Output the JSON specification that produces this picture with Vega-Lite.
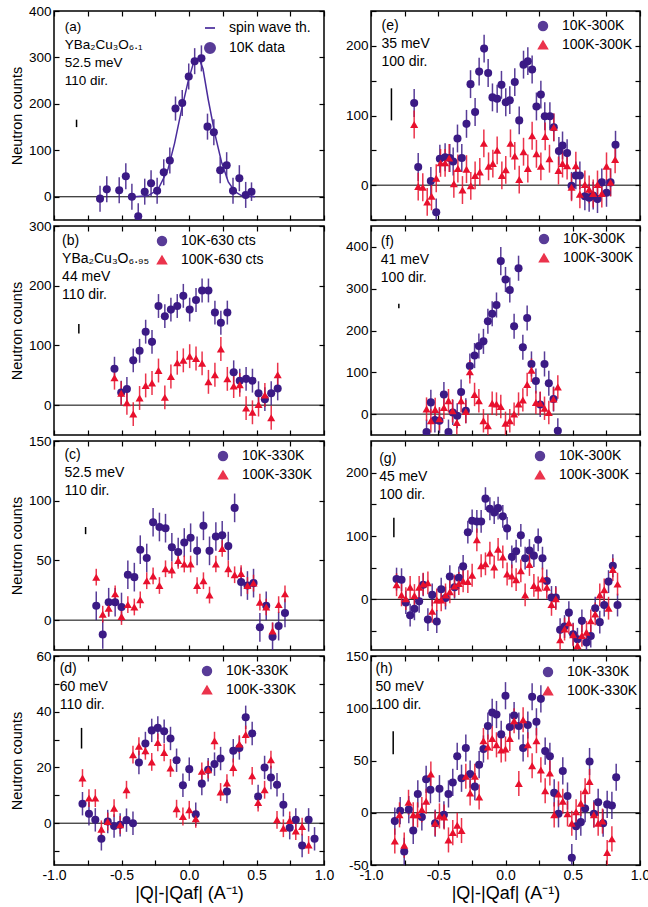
{
  "$schema": "https://vega.github.io/schema/vega-lite/v6.json",
  "padding": {"left": 8, "top": 3, "right": 0, "bottom": 5},
  "spacing": 9,
  "config": {
    "font": "Liberation Sans",
    "locale": {"number": {"decimal": ".", "thousands": ",", "grouping": [3], "currency": ["$", ""], "minus": "-"}},
    "view": {"stroke": "#000000", "strokeWidth": 1.5},
    "axis": {"grid": false, "domain": false, "tickColor": "#000000", "tickWidth": 1.2, "labelColor": "#000000", "titleColor": "#000000", "labelFontSize": 13.5, "titleFontSize": 14.5, "titleFontWeight": "normal", "labelFlush": false, "labelOverlap": false},
    "legend": {"labelFontSize": 14, "labelColor": "#000000", "titleFontSize": 12}
  },
  "datasets": {
    "a": [
      {"s":"10K data","x":-0.659,"y":-4,"e":28},{"s":"10K data","x":-0.609,"y":16,"e":28},{"s":"10K data","x":-0.517,"y":14,"e":28},{"s":"10K data","x":-0.468,"y":44,"e":28},{"s":"10K data","x":-0.423,"y":0,"e":28},{"s":"10K data","x":-0.376,"y":-42,"e":28},{"s":"10K data","x":-0.328,"y":11,"e":28},{"s":"10K data","x":-0.281,"y":29,"e":28},{"s":"10K data","x":-0.236,"y":13,"e":28},{"s":"10K data","x":-0.187,"y":53,"e":28},{"s":"10K data","x":-0.142,"y":78,"e":28},{"s":"10K data","x":-0.100,"y":190,"e":26},{"s":"10K data","x":-0.050,"y":202,"e":28},{"s":"10K data","x":-0.002,"y":259,"e":28},{"s":"10K data","x":0.042,"y":292,"e":28},{"s":"10K data","x":0.092,"y":298,"e":28},{"s":"10K data","x":0.137,"y":151,"e":28},{"s":"10K data","x":0.184,"y":139,"e":28},{"s":"10K data","x":0.231,"y":57,"e":28},{"s":"10K data","x":0.279,"y":68,"e":28},{"s":"10K data","x":0.326,"y":13,"e":28},{"s":"10K data","x":0.373,"y":40,"e":28},{"s":"10K data","x":0.420,"y":4,"e":28},{"s":"10K data","x":0.463,"y":11,"e":20}
    ],
    "aline": [
      {"s":"spin wave th.","x":-0.405,"y":0},{"s":"spin wave th.","x":-0.306,"y":2},{"s":"spin wave th.","x":-0.231,"y":15},{"s":"spin wave th.","x":-0.157,"y":58},{"s":"spin wave th.","x":-0.107,"y":115},{"s":"spin wave th.","x":-0.057,"y":185},{"s":"spin wave th.","x":-0.007,"y":248},{"s":"spin wave th.","x":0.030,"y":285},{"s":"spin wave th.","x":0.072,"y":300},{"s":"spin wave th.","x":0.104,"y":275},{"s":"spin wave th.","x":0.142,"y":210},{"s":"spin wave th.","x":0.192,"y":135},{"s":"spin wave th.","x":0.241,"y":75},{"s":"spin wave th.","x":0.291,"y":32},{"s":"spin wave th.","x":0.341,"y":11},{"s":"spin wave th.","x":0.391,"y":2},{"s":"spin wave th.","x":0.490,"y":0}
    ],
    "b": [
      {"s":"10K-630 cts","x":-0.552,"y":61,"e":20},{"s":"10K-630 cts","x":-0.502,"y":21,"e":20},{"s":"10K-630 cts","x":-0.460,"y":27,"e":20},{"s":"10K-630 cts","x":-0.413,"y":75,"e":20},{"s":"10K-630 cts","x":-0.366,"y":91,"e":20},{"s":"10K-630 cts","x":-0.321,"y":123,"e":20},{"s":"10K-630 cts","x":-0.274,"y":106,"e":20},{"s":"10K-630 cts","x":-0.226,"y":166,"e":20},{"s":"10K-630 cts","x":-0.179,"y":149,"e":20},{"s":"10K-630 cts","x":-0.134,"y":160,"e":20},{"s":"10K-630 cts","x":-0.087,"y":166,"e":20},{"s":"10K-630 cts","x":-0.042,"y":183,"e":20},{"s":"10K-630 cts","x":0.005,"y":160,"e":20},{"s":"10K-630 cts","x":0.052,"y":176,"e":20},{"s":"10K-630 cts","x":0.097,"y":192,"e":20},{"s":"10K-630 cts","x":0.144,"y":192,"e":20},{"s":"10K-630 cts","x":0.192,"y":155,"e":20},{"s":"10K-630 cts","x":0.236,"y":138,"e":20},{"s":"10K-630 cts","x":0.284,"y":155,"e":20},{"s":"10K-630 cts","x":0.331,"y":55,"e":20},{"s":"10K-630 cts","x":0.376,"y":41,"e":20},{"s":"10K-630 cts","x":0.423,"y":44,"e":20},{"s":"10K-630 cts","x":0.470,"y":41,"e":20},{"s":"10K-630 cts","x":0.515,"y":20,"e":20},{"s":"10K-630 cts","x":0.562,"y":10,"e":20},{"s":"10K-630 cts","x":0.609,"y":20,"e":20},{"s":"10K-630 cts","x":0.657,"y":28,"e":20},
      {"s":"100K-630 cts","x":-0.552,"y":46,"e":20},{"s":"100K-630 cts","x":-0.502,"y":20,"e":20},{"s":"100K-630 cts","x":-0.460,"y":4,"e":20},{"s":"100K-630 cts","x":-0.413,"y":-15,"e":20},{"s":"100K-630 cts","x":-0.366,"y":12,"e":20},{"s":"100K-630 cts","x":-0.321,"y":33,"e":20},{"s":"100K-630 cts","x":-0.274,"y":37,"e":20},{"s":"100K-630 cts","x":-0.226,"y":58,"e":20},{"s":"100K-630 cts","x":-0.179,"y":13,"e":20},{"s":"100K-630 cts","x":-0.134,"y":48,"e":20},{"s":"100K-630 cts","x":-0.087,"y":71,"e":20},{"s":"100K-630 cts","x":-0.042,"y":75,"e":20},{"s":"100K-630 cts","x":0.005,"y":82,"e":20},{"s":"100K-630 cts","x":0.052,"y":78,"e":20},{"s":"100K-630 cts","x":0.097,"y":70,"e":20},{"s":"100K-630 cts","x":0.144,"y":39,"e":20},{"s":"100K-630 cts","x":0.192,"y":51,"e":20},{"s":"100K-630 cts","x":0.236,"y":94,"e":20},{"s":"100K-630 cts","x":0.284,"y":44,"e":20},{"s":"100K-630 cts","x":0.331,"y":32,"e":20},{"s":"100K-630 cts","x":0.376,"y":34,"e":20},{"s":"100K-630 cts","x":0.423,"y":-5,"e":20},{"s":"100K-630 cts","x":0.470,"y":-12,"e":20},{"s":"100K-630 cts","x":0.515,"y":1,"e":20},{"s":"100K-630 cts","x":0.562,"y":17,"e":20},{"s":"100K-630 cts","x":0.609,"y":-21,"e":20},{"s":"100K-630 cts","x":0.657,"y":51,"e":20}
    ],
    "c": [
      {"s":"10K-330K","x":-0.687,"y":12,"e":12},{"s":"10K-330K","x":-0.639,"y":-12,"e":12},{"s":"10K-330K","x":-0.595,"y":15,"e":12},{"s":"10K-330K","x":-0.547,"y":15,"e":12},{"s":"10K-330K","x":-0.500,"y":11,"e":12},{"s":"10K-330K","x":-0.453,"y":38,"e":12},{"s":"10K-330K","x":-0.405,"y":36,"e":12},{"s":"10K-330K","x":-0.361,"y":59,"e":12},{"s":"10K-330K","x":-0.313,"y":52,"e":12},{"s":"10K-330K","x":-0.266,"y":82,"e":12},{"s":"10K-330K","x":-0.219,"y":78,"e":12},{"s":"10K-330K","x":-0.174,"y":77,"e":12},{"s":"10K-330K","x":-0.127,"y":61,"e":12},{"s":"10K-330K","x":-0.080,"y":57,"e":12},{"s":"10K-330K","x":-0.035,"y":65,"e":12},{"s":"10K-330K","x":0.012,"y":69,"e":12},{"s":"10K-330K","x":0.060,"y":58,"e":12},{"s":"10K-330K","x":0.107,"y":79,"e":12},{"s":"10K-330K","x":0.152,"y":58,"e":12},{"s":"10K-330K","x":0.199,"y":70,"e":12},{"s":"10K-330K","x":0.246,"y":71,"e":12},{"s":"10K-330K","x":0.291,"y":62,"e":12},{"s":"10K-330K","x":0.338,"y":94,"e":12},{"s":"10K-330K","x":0.386,"y":32,"e":12},{"s":"10K-330K","x":0.433,"y":29,"e":12},{"s":"10K-330K","x":0.478,"y":31,"e":12},{"s":"10K-330K","x":0.525,"y":-6,"e":12},{"s":"10K-330K","x":0.572,"y":12,"e":12},{"s":"10K-330K","x":0.619,"y":-14,"e":12},{"s":"10K-330K","x":0.664,"y":-5,"e":12},{"s":"10K-330K","x":0.711,"y":6,"e":12},
      {"s":"100K-330K","x":-0.687,"y":36,"e":7},{"s":"100K-330K","x":-0.639,"y":5,"e":7},{"s":"100K-330K","x":-0.595,"y":10,"e":7},{"s":"100K-330K","x":-0.547,"y":22,"e":7},{"s":"100K-330K","x":-0.500,"y":3,"e":7},{"s":"100K-330K","x":-0.453,"y":13,"e":7},{"s":"100K-330K","x":-0.405,"y":11,"e":7},{"s":"100K-330K","x":-0.361,"y":17,"e":7},{"s":"100K-330K","x":-0.313,"y":33,"e":7},{"s":"100K-330K","x":-0.266,"y":37,"e":7},{"s":"100K-330K","x":-0.219,"y":29,"e":7},{"s":"100K-330K","x":-0.174,"y":43,"e":7},{"s":"100K-330K","x":-0.127,"y":42,"e":7},{"s":"100K-330K","x":-0.080,"y":50,"e":7},{"s":"100K-330K","x":-0.035,"y":47,"e":7},{"s":"100K-330K","x":0.012,"y":47,"e":7},{"s":"100K-330K","x":0.060,"y":29,"e":7},{"s":"100K-330K","x":0.107,"y":33,"e":7},{"s":"100K-330K","x":0.152,"y":21,"e":7},{"s":"100K-330K","x":0.199,"y":47,"e":7},{"s":"100K-330K","x":0.246,"y":60,"e":7},{"s":"100K-330K","x":0.291,"y":43,"e":7},{"s":"100K-330K","x":0.338,"y":38,"e":7},{"s":"100K-330K","x":0.386,"y":39,"e":7},{"s":"100K-330K","x":0.433,"y":29,"e":7},{"s":"100K-330K","x":0.478,"y":31,"e":7},{"s":"100K-330K","x":0.525,"y":15,"e":7},{"s":"100K-330K","x":0.572,"y":11,"e":7},{"s":"100K-330K","x":0.619,"y":-9,"e":7},{"s":"100K-330K","x":0.664,"y":13,"e":7},{"s":"100K-330K","x":0.711,"y":22,"e":7}
    ],
    "d": [
      {"s":"10K-330K","x":-0.789,"y":7,"e":4.2},{"s":"10K-330K","x":-0.741,"y":3.4,"e":4.2},{"s":"10K-330K","x":-0.694,"y":1.2,"e":4.2},{"s":"10K-330K","x":-0.649,"y":-5.6,"e":4.2},{"s":"10K-330K","x":-0.602,"y":0.6,"e":4.2},{"s":"10K-330K","x":-0.555,"y":-1,"e":4.2},{"s":"10K-330K","x":-0.510,"y":-0.6,"e":4.2},{"s":"10K-330K","x":-0.463,"y":1.1,"e":4.2},{"s":"10K-330K","x":-0.415,"y":0,"e":4.2},{"s":"10K-330K","x":-0.371,"y":21.8,"e":4.2},{"s":"10K-330K","x":-0.323,"y":28.6,"e":4.2},{"s":"10K-330K","x":-0.276,"y":33.3,"e":4.2},{"s":"10K-330K","x":-0.231,"y":34.2,"e":4.2},{"s":"10K-330K","x":-0.184,"y":33,"e":4.2},{"s":"10K-330K","x":-0.137,"y":30.4,"e":4.2},{"s":"10K-330K","x":-0.092,"y":22.6,"e":4.2},{"s":"10K-330K","x":-0.045,"y":13.6,"e":4.2},{"s":"10K-330K","x":0.002,"y":19.4,"e":4.2},{"s":"10K-330K","x":0.050,"y":3.2,"e":4.2},{"s":"10K-330K","x":0.095,"y":14.2,"e":4.2},{"s":"10K-330K","x":0.142,"y":19.2,"e":4.2},{"s":"10K-330K","x":0.189,"y":21.2,"e":4.2},{"s":"10K-330K","x":0.234,"y":23.2,"e":4.2},{"s":"10K-330K","x":0.281,"y":11.4,"e":4.2},{"s":"10K-330K","x":0.328,"y":26,"e":4.2},{"s":"10K-330K","x":0.373,"y":27,"e":4.2},{"s":"10K-330K","x":0.420,"y":38,"e":4.2},{"s":"10K-330K","x":0.468,"y":32.2,"e":4.2},{"s":"10K-330K","x":0.512,"y":9.6,"e":4.2},{"s":"10K-330K","x":0.560,"y":20,"e":4.2},{"s":"10K-330K","x":0.607,"y":16.4,"e":4.2},{"s":"10K-330K","x":0.652,"y":13.8,"e":4.2},{"s":"10K-330K","x":0.699,"y":6.6,"e":4.2},{"s":"10K-330K","x":0.746,"y":-1.6,"e":4.2},{"s":"10K-330K","x":0.791,"y":1.2,"e":4.2},{"s":"10K-330K","x":0.838,"y":-8,"e":4.2},{"s":"10K-330K","x":0.886,"y":1.2,"e":4.2},{"s":"10K-330K","x":0.930,"y":-5.6,"e":4.2},
      {"s":"100K-330K","x":-0.789,"y":16.2,"e":3.2},{"s":"100K-330K","x":-0.741,"y":9,"e":3.2},{"s":"100K-330K","x":-0.694,"y":9,"e":3.2},{"s":"100K-330K","x":-0.649,"y":-2.2,"e":3.2},{"s":"100K-330K","x":-0.602,"y":0.6,"e":3.2},{"s":"100K-330K","x":-0.555,"y":5.4,"e":3.2},{"s":"100K-330K","x":-0.510,"y":-0.6,"e":3.2},{"s":"100K-330K","x":-0.463,"y":12,"e":3.2},{"s":"100K-330K","x":-0.415,"y":24.6,"e":3.2},{"s":"100K-330K","x":-0.371,"y":27.6,"e":3.2},{"s":"100K-330K","x":-0.323,"y":26,"e":3.2},{"s":"100K-330K","x":-0.276,"y":22,"e":3.2},{"s":"100K-330K","x":-0.231,"y":29,"e":3.2},{"s":"100K-330K","x":-0.184,"y":25.4,"e":3.2},{"s":"100K-330K","x":-0.137,"y":19.8,"e":3.2},{"s":"100K-330K","x":-0.092,"y":5.2,"e":3.2},{"s":"100K-330K","x":-0.045,"y":2.4,"e":3.2},{"s":"100K-330K","x":0.002,"y":4.8,"e":3.2},{"s":"100K-330K","x":0.050,"y":1.6,"e":3.2},{"s":"100K-330K","x":0.095,"y":18.6,"e":3.2},{"s":"100K-330K","x":0.142,"y":19.2,"e":3.2},{"s":"100K-330K","x":0.189,"y":29.6,"e":3.2},{"s":"100K-330K","x":0.234,"y":11.2,"e":3.2},{"s":"100K-330K","x":0.281,"y":14.4,"e":3.2},{"s":"100K-330K","x":0.328,"y":20,"e":3.2},{"s":"100K-330K","x":0.373,"y":28.4,"e":3.2},{"s":"100K-330K","x":0.420,"y":31.8,"e":3.2},{"s":"100K-330K","x":0.468,"y":17,"e":3.2},{"s":"100K-330K","x":0.512,"y":7.4,"e":3.2},{"s":"100K-330K","x":0.560,"y":12,"e":3.2},{"s":"100K-330K","x":0.607,"y":22.8,"e":3.2},{"s":"100K-330K","x":0.652,"y":1.2,"e":3.2},{"s":"100K-330K","x":0.699,"y":-1.8,"e":3.2},{"s":"100K-330K","x":0.746,"y":1,"e":3.2},{"s":"100K-330K","x":0.791,"y":-2.8,"e":3.2},{"s":"100K-330K","x":0.838,"y":-1.2,"e":3.2},{"s":"100K-330K","x":0.886,"y":-7.8,"e":3.2}
    ],
    "e": [
      {"s":"10K-300K","x":-0.679,"y":118,"e":20},{"s":"10K-300K","x":-0.649,"y":26,"e":20},{"s":"10K-300K","x":-0.555,"y":6,"e":20},{"s":"10K-300K","x":-0.515,"y":-39,"e":20},{"s":"10K-300K","x":-0.488,"y":38,"e":20},{"s":"10K-300K","x":-0.449,"y":40,"e":20},{"s":"10K-300K","x":-0.414,"y":39,"e":20},{"s":"10K-300K","x":-0.389,"y":34,"e":20},{"s":"10K-300K","x":-0.357,"y":67,"e":20},{"s":"10K-300K","x":-0.325,"y":39,"e":20},{"s":"10K-300K","x":-0.290,"y":88,"e":20},{"s":"10K-300K","x":-0.260,"y":145,"e":20},{"s":"10K-300K","x":-0.226,"y":105,"e":20},{"s":"10K-300K","x":-0.196,"y":163,"e":20},{"s":"10K-300K","x":-0.159,"y":196,"e":20},{"s":"10K-300K","x":-0.129,"y":161,"e":20},{"s":"10K-300K","x":-0.097,"y":126,"e":20},{"s":"10K-300K","x":-0.062,"y":124,"e":20},{"s":"10K-300K","x":-0.030,"y":144,"e":20},{"s":"10K-300K","x":0.002,"y":119,"e":20},{"s":"10K-300K","x":0.032,"y":122,"e":20},{"s":"10K-300K","x":0.069,"y":148,"e":20},{"s":"10K-300K","x":0.102,"y":93,"e":20},{"s":"10K-300K","x":0.134,"y":173,"e":20},{"s":"10K-300K","x":0.166,"y":178,"e":20},{"s":"10K-300K","x":0.198,"y":166,"e":20},{"s":"10K-300K","x":0.230,"y":113,"e":20},{"s":"10K-300K","x":0.263,"y":130,"e":20},{"s":"10K-300K","x":0.292,"y":99,"e":20},{"s":"10K-300K","x":0.330,"y":99,"e":20},{"s":"10K-300K","x":0.359,"y":83,"e":20},{"s":"10K-300K","x":0.397,"y":49,"e":20},{"s":"10K-300K","x":0.424,"y":57,"e":20},{"s":"10K-300K","x":0.458,"y":46,"e":20},{"s":"10K-300K","x":0.491,"y":-1,"e":20},{"s":"10K-300K","x":0.523,"y":14,"e":20},{"s":"10K-300K","x":0.553,"y":14,"e":20},{"s":"10K-300K","x":0.590,"y":-16,"e":20},{"s":"10K-300K","x":0.622,"y":-18,"e":20},{"s":"10K-300K","x":0.652,"y":-15,"e":20},{"s":"10K-300K","x":0.684,"y":-20,"e":20},{"s":"10K-300K","x":0.716,"y":4,"e":20},{"s":"10K-300K","x":0.751,"y":-11,"e":20},{"s":"10K-300K","x":0.781,"y":4,"e":20},{"s":"10K-300K","x":0.818,"y":58,"e":20},
      {"s":"100K-300K","x":-0.679,"y":87,"e":20},{"s":"100K-300K","x":-0.649,"y":-2,"e":20},{"s":"100K-300K","x":-0.615,"y":-3,"e":20},{"s":"100K-300K","x":-0.582,"y":-24,"e":20},{"s":"100K-300K","x":-0.550,"y":-16,"e":20},{"s":"100K-300K","x":-0.515,"y":10,"e":20},{"s":"100K-300K","x":-0.483,"y":32,"e":20},{"s":"100K-300K","x":-0.449,"y":32,"e":20},{"s":"100K-300K","x":-0.419,"y":39,"e":20},{"s":"100K-300K","x":-0.384,"y":2,"e":20},{"s":"100K-300K","x":-0.354,"y":24,"e":20},{"s":"100K-300K","x":-0.320,"y":-7,"e":20},{"s":"100K-300K","x":-0.290,"y":23,"e":20},{"s":"100K-300K","x":-0.258,"y":-1,"e":20},{"s":"100K-300K","x":-0.226,"y":14,"e":20},{"s":"100K-300K","x":-0.191,"y":19,"e":20},{"s":"100K-300K","x":-0.161,"y":60,"e":20},{"s":"100K-300K","x":-0.126,"y":27,"e":20},{"s":"100K-300K","x":-0.094,"y":31,"e":20},{"s":"100K-300K","x":-0.062,"y":50,"e":20},{"s":"100K-300K","x":-0.027,"y":14,"e":20},{"s":"100K-300K","x":0.002,"y":22,"e":20},{"s":"100K-300K","x":0.037,"y":60,"e":20},{"s":"100K-300K","x":0.069,"y":42,"e":20},{"s":"100K-300K","x":0.102,"y":8,"e":20},{"s":"100K-300K","x":0.134,"y":48,"e":20},{"s":"100K-300K","x":0.166,"y":24,"e":20},{"s":"100K-300K","x":0.198,"y":71,"e":20},{"s":"100K-300K","x":0.230,"y":45,"e":20},{"s":"100K-300K","x":0.263,"y":27,"e":20},{"s":"100K-300K","x":0.295,"y":70,"e":20},{"s":"100K-300K","x":0.327,"y":38,"e":20},{"s":"100K-300K","x":0.359,"y":83,"e":20},{"s":"100K-300K","x":0.394,"y":21,"e":20},{"s":"100K-300K","x":0.424,"y":31,"e":20},{"s":"100K-300K","x":0.458,"y":28,"e":20},{"s":"100K-300K","x":0.491,"y":-3,"e":20},{"s":"100K-300K","x":0.523,"y":28,"e":20},{"s":"100K-300K","x":0.553,"y":-13,"e":20},{"s":"100K-300K","x":0.590,"y":1,"e":20},{"s":"100K-300K","x":0.622,"y":-6,"e":20},{"s":"100K-300K","x":0.652,"y":-12,"e":20},{"s":"100K-300K","x":0.684,"y":1,"e":20},{"s":"100K-300K","x":0.716,"y":-12,"e":20},{"s":"100K-300K","x":0.751,"y":27,"e":20},{"s":"100K-300K","x":0.781,"y":4,"e":20},{"s":"100K-300K","x":0.815,"y":37,"e":20}
    ],
    "f": [
      {"s":"10K-300K","x":-0.587,"y":-43,"e":30},{"s":"10K-300K","x":-0.555,"y":28,"e":30},{"s":"10K-300K","x":-0.525,"y":-14,"e":30},{"s":"10K-300K","x":-0.491,"y":-16,"e":30},{"s":"10K-300K","x":-0.458,"y":47,"e":30},{"s":"10K-300K","x":-0.424,"y":-43,"e":30},{"s":"10K-300K","x":-0.392,"y":4,"e":30},{"s":"10K-300K","x":-0.359,"y":-4,"e":30},{"s":"10K-300K","x":-0.330,"y":53,"e":30},{"s":"10K-300K","x":-0.295,"y":8,"e":30},{"s":"10K-300K","x":-0.265,"y":115,"e":30},{"s":"10K-300K","x":-0.230,"y":140,"e":30},{"s":"10K-300K","x":-0.198,"y":163,"e":30},{"s":"10K-300K","x":-0.164,"y":174,"e":30},{"s":"10K-300K","x":-0.131,"y":222,"e":30},{"s":"10K-300K","x":-0.099,"y":240,"e":30},{"s":"10K-300K","x":-0.067,"y":261,"e":30},{"s":"10K-300K","x":-0.035,"y":366,"e":34},{"s":"10K-300K","x":0.000,"y":322,"e":30},{"s":"10K-300K","x":0.032,"y":297,"e":30},{"s":"10K-300K","x":0.064,"y":210,"e":30},{"s":"10K-300K","x":0.097,"y":349,"e":30},{"s":"10K-300K","x":0.129,"y":160,"e":30},{"s":"10K-300K","x":0.161,"y":230,"e":30},{"s":"10K-300K","x":0.193,"y":120,"e":30},{"s":"10K-300K","x":0.226,"y":79,"e":30},{"s":"10K-300K","x":0.258,"y":23,"e":30},{"s":"10K-300K","x":0.290,"y":120,"e":30},{"s":"10K-300K","x":0.322,"y":74,"e":30},{"s":"10K-300K","x":0.357,"y":36,"e":30},{"s":"10K-300K","x":0.389,"y":-40,"e":30},
      {"s":"100K-300K","x":-0.587,"y":12,"e":28},{"s":"100K-300K","x":-0.555,"y":-16,"e":28},{"s":"100K-300K","x":-0.523,"y":11,"e":28},{"s":"100K-300K","x":-0.491,"y":-11,"e":28},{"s":"100K-300K","x":-0.458,"y":16,"e":28},{"s":"100K-300K","x":-0.424,"y":32,"e":28},{"s":"100K-300K","x":-0.394,"y":8,"e":28},{"s":"100K-300K","x":-0.362,"y":-20,"e":28},{"s":"100K-300K","x":-0.330,"y":32,"e":28},{"s":"100K-300K","x":-0.295,"y":6,"e":28},{"s":"100K-300K","x":-0.265,"y":101,"e":28},{"s":"100K-300K","x":-0.230,"y":47,"e":28},{"s":"100K-300K","x":-0.198,"y":32,"e":28},{"s":"100K-300K","x":-0.164,"y":-16,"e":28},{"s":"100K-300K","x":-0.131,"y":-28,"e":28},{"s":"100K-300K","x":-0.099,"y":26,"e":28},{"s":"100K-300K","x":-0.067,"y":24,"e":28},{"s":"100K-300K","x":-0.035,"y":18,"e":28},{"s":"100K-300K","x":0.000,"y":-22,"e":28},{"s":"100K-300K","x":0.032,"y":-16,"e":28},{"s":"100K-300K","x":0.064,"y":0,"e":28},{"s":"100K-300K","x":0.097,"y":24,"e":28},{"s":"100K-300K","x":0.129,"y":34,"e":28},{"s":"100K-300K","x":0.161,"y":71,"e":28},{"s":"100K-300K","x":0.193,"y":105,"e":28},{"s":"100K-300K","x":0.226,"y":28,"e":28},{"s":"100K-300K","x":0.258,"y":26,"e":28},{"s":"100K-300K","x":0.290,"y":14,"e":28},{"s":"100K-300K","x":0.322,"y":4,"e":28},{"s":"100K-300K","x":0.357,"y":36,"e":28},{"s":"100K-300K","x":0.389,"y":65,"e":28}
    ],
    "g": [
      {"s":"10K-300K","x":-0.810,"y":32,"e":18},{"s":"10K-300K","x":-0.773,"y":31,"e":18},{"s":"10K-300K","x":-0.741,"y":-5,"e":18},{"s":"10K-300K","x":-0.709,"y":-25,"e":18},{"s":"10K-300K","x":-0.677,"y":-15,"e":18},{"s":"10K-300K","x":-0.642,"y":-3,"e":18},{"s":"10K-300K","x":-0.612,"y":23,"e":18},{"s":"10K-300K","x":-0.577,"y":-32,"e":18},{"s":"10K-300K","x":-0.545,"y":7,"e":18},{"s":"10K-300K","x":-0.511,"y":-35,"e":18},{"s":"10K-300K","x":-0.478,"y":16,"e":18},{"s":"10K-300K","x":-0.446,"y":2,"e":18},{"s":"10K-300K","x":-0.414,"y":36,"e":18},{"s":"10K-300K","x":-0.379,"y":19,"e":18},{"s":"10K-300K","x":-0.347,"y":34,"e":18},{"s":"10K-300K","x":-0.315,"y":52,"e":18},{"s":"10K-300K","x":-0.280,"y":106,"e":18},{"s":"10K-300K","x":-0.248,"y":124,"e":18},{"s":"10K-300K","x":-0.213,"y":123,"e":18},{"s":"10K-300K","x":-0.181,"y":123,"e":18},{"s":"10K-300K","x":-0.149,"y":159,"e":18},{"s":"10K-300K","x":-0.116,"y":143,"e":18},{"s":"10K-300K","x":-0.084,"y":137,"e":18},{"s":"10K-300K","x":-0.055,"y":144,"e":18},{"s":"10K-300K","x":-0.020,"y":131,"e":18},{"s":"10K-300K","x":0.012,"y":112,"e":18},{"s":"10K-300K","x":0.047,"y":67,"e":18},{"s":"10K-300K","x":0.079,"y":76,"e":18},{"s":"10K-300K","x":0.114,"y":101,"e":18},{"s":"10K-300K","x":0.146,"y":65,"e":18},{"s":"10K-300K","x":0.178,"y":77,"e":18},{"s":"10K-300K","x":0.211,"y":69,"e":18},{"s":"10K-300K","x":0.243,"y":94,"e":18},{"s":"10K-300K","x":0.275,"y":65,"e":18},{"s":"10K-300K","x":0.307,"y":29,"e":18},{"s":"10K-300K","x":0.342,"y":3,"e":18},{"s":"10K-300K","x":0.374,"y":3,"e":18},{"s":"10K-300K","x":0.406,"y":-48,"e":18},{"s":"10K-300K","x":0.439,"y":-43,"e":18},{"s":"10K-300K","x":0.471,"y":-21,"e":18},{"s":"10K-300K","x":0.503,"y":-55,"e":18},{"s":"10K-300K","x":0.535,"y":-63,"e":18},{"s":"10K-300K","x":0.568,"y":-34,"e":18},{"s":"10K-300K","x":0.602,"y":-68,"e":18},{"s":"10K-300K","x":0.634,"y":-58,"e":18},{"s":"10K-300K","x":0.667,"y":-14,"e":18},{"s":"10K-300K","x":0.701,"y":-36,"e":18},{"s":"10K-300K","x":0.734,"y":-9,"e":18},{"s":"10K-300K","x":0.766,"y":28,"e":18},{"s":"10K-300K","x":0.798,"y":53,"e":18},{"s":"10K-300K","x":0.833,"y":-9,"e":18},
      {"s":"100K-300K","x":-0.810,"y":23,"e":18},{"s":"100K-300K","x":-0.773,"y":7,"e":18},{"s":"100K-300K","x":-0.741,"y":1,"e":18},{"s":"100K-300K","x":-0.709,"y":19,"e":18},{"s":"100K-300K","x":-0.677,"y":6,"e":18},{"s":"100K-300K","x":-0.642,"y":19,"e":18},{"s":"100K-300K","x":-0.612,"y":24,"e":18},{"s":"100K-300K","x":-0.577,"y":26,"e":18},{"s":"100K-300K","x":-0.545,"y":-19,"e":18},{"s":"100K-300K","x":-0.511,"y":-1,"e":18},{"s":"100K-300K","x":-0.478,"y":-1,"e":18},{"s":"100K-300K","x":-0.446,"y":7,"e":18},{"s":"100K-300K","x":-0.414,"y":12,"e":18},{"s":"100K-300K","x":-0.379,"y":21,"e":18},{"s":"100K-300K","x":-0.347,"y":25,"e":18},{"s":"100K-300K","x":-0.315,"y":29,"e":18},{"s":"100K-300K","x":-0.280,"y":28,"e":18},{"s":"100K-300K","x":-0.248,"y":38,"e":18},{"s":"100K-300K","x":-0.213,"y":94,"e":18},{"s":"100K-300K","x":-0.181,"y":53,"e":18},{"s":"100K-300K","x":-0.149,"y":56,"e":18},{"s":"100K-300K","x":-0.116,"y":73,"e":18},{"s":"100K-300K","x":-0.084,"y":51,"e":18},{"s":"100K-300K","x":-0.055,"y":79,"e":18},{"s":"100K-300K","x":-0.020,"y":67,"e":18},{"s":"100K-300K","x":0.012,"y":40,"e":18},{"s":"100K-300K","x":0.047,"y":37,"e":18},{"s":"100K-300K","x":0.079,"y":31,"e":18},{"s":"100K-300K","x":0.114,"y":45,"e":18},{"s":"100K-300K","x":0.146,"y":7,"e":18},{"s":"100K-300K","x":0.178,"y":55,"e":18},{"s":"100K-300K","x":0.211,"y":22,"e":18},{"s":"100K-300K","x":0.243,"y":18,"e":18},{"s":"100K-300K","x":0.275,"y":32,"e":18},{"s":"100K-300K","x":0.307,"y":19,"e":18},{"s":"100K-300K","x":0.342,"y":-8,"e":18},{"s":"100K-300K","x":0.374,"y":1,"e":18},{"s":"100K-300K","x":0.406,"y":-64,"e":18},{"s":"100K-300K","x":0.439,"y":-47,"e":18},{"s":"100K-300K","x":0.471,"y":-37,"e":18},{"s":"100K-300K","x":0.503,"y":-56,"e":18},{"s":"100K-300K","x":0.535,"y":-73,"e":18},{"s":"100K-300K","x":0.568,"y":-57,"e":18},{"s":"100K-300K","x":0.602,"y":-52,"e":18},{"s":"100K-300K","x":0.634,"y":-34,"e":18},{"s":"100K-300K","x":0.667,"y":-23,"e":18},{"s":"100K-300K","x":0.701,"y":7,"e":18},{"s":"100K-300K","x":0.734,"y":15,"e":18},{"s":"100K-300K","x":0.766,"y":-14,"e":18},{"s":"100K-300K","x":0.798,"y":47,"e":18},{"s":"100K-300K","x":0.833,"y":24,"e":18}
    ],
    "h": [
      {"s":"10K-330K","x":-0.823,"y":-8,"e":13},{"s":"10K-330K","x":-0.783,"y":2,"e":13},{"s":"10K-330K","x":-0.753,"y":-37,"e":13},{"s":"10K-330K","x":-0.719,"y":3,"e":13},{"s":"10K-330K","x":-0.686,"y":-17,"e":13},{"s":"10K-330K","x":-0.652,"y":18,"e":13},{"s":"10K-330K","x":-0.622,"y":-4,"e":13},{"s":"10K-330K","x":-0.590,"y":32,"e":13},{"s":"10K-330K","x":-0.558,"y":22,"e":13},{"s":"10K-330K","x":-0.523,"y":-10,"e":13},{"s":"10K-330K","x":-0.491,"y":23,"e":13},{"s":"10K-330K","x":-0.458,"y":-2,"e":13},{"s":"10K-330K","x":-0.424,"y":18,"e":13},{"s":"10K-330K","x":-0.392,"y":29,"e":13},{"s":"10K-330K","x":-0.359,"y":54,"e":13},{"s":"10K-330K","x":-0.327,"y":33,"e":13},{"s":"10K-330K","x":-0.295,"y":62,"e":13},{"s":"10K-330K","x":-0.263,"y":37,"e":13},{"s":"10K-330K","x":-0.228,"y":25,"e":13},{"s":"10K-330K","x":-0.196,"y":46,"e":13},{"s":"10K-330K","x":-0.164,"y":61,"e":13},{"s":"10K-330K","x":-0.131,"y":83,"e":13},{"s":"10K-330K","x":-0.099,"y":96,"e":13},{"s":"10K-330K","x":-0.067,"y":94,"e":13},{"s":"10K-330K","x":-0.032,"y":75,"e":13},{"s":"10K-330K","x":0.000,"y":112,"e":13},{"s":"10K-330K","x":0.032,"y":82,"e":13},{"s":"10K-330K","x":0.064,"y":93,"e":13},{"s":"10K-330K","x":0.099,"y":83,"e":13},{"s":"10K-330K","x":0.131,"y":62,"e":13},{"s":"10K-330K","x":0.166,"y":84,"e":13},{"s":"10K-330K","x":0.198,"y":111,"e":13},{"s":"10K-330K","x":0.230,"y":87,"e":13},{"s":"10K-330K","x":0.263,"y":109,"e":13},{"s":"10K-330K","x":0.295,"y":59,"e":13},{"s":"10K-330K","x":0.330,"y":54,"e":13},{"s":"10K-330K","x":0.362,"y":19,"e":13},{"s":"10K-330K","x":0.394,"y":-1,"e":13},{"s":"10K-330K","x":0.426,"y":40,"e":13},{"s":"10K-330K","x":0.461,"y":16,"e":13},{"s":"10K-330K","x":0.493,"y":-43,"e":13},{"s":"10K-330K","x":0.525,"y":-13,"e":13},{"s":"10K-330K","x":0.560,"y":-9,"e":13},{"s":"10K-330K","x":0.592,"y":4,"e":13},{"s":"10K-330K","x":0.625,"y":49,"e":13},{"s":"10K-330K","x":0.657,"y":-1,"e":13},{"s":"10K-330K","x":0.689,"y":10,"e":13},{"s":"10K-330K","x":0.726,"y":-10,"e":13},{"s":"10K-330K","x":0.756,"y":8,"e":13},{"s":"10K-330K","x":0.791,"y":7,"e":13},{"s":"10K-330K","x":0.823,"y":34,"e":13},
      {"s":"100K-330K","x":-0.823,"y":-27,"e":12},{"s":"100K-330K","x":-0.788,"y":-2,"e":12},{"s":"100K-330K","x":-0.753,"y":-31,"e":12},{"s":"100K-330K","x":-0.721,"y":10,"e":12},{"s":"100K-330K","x":-0.686,"y":-2,"e":12},{"s":"100K-330K","x":-0.654,"y":-2,"e":12},{"s":"100K-330K","x":-0.622,"y":3,"e":12},{"s":"100K-330K","x":-0.590,"y":11,"e":12},{"s":"100K-330K","x":-0.555,"y":37,"e":12},{"s":"100K-330K","x":-0.523,"y":-10,"e":12},{"s":"100K-330K","x":-0.491,"y":-3,"e":12},{"s":"100K-330K","x":-0.456,"y":-4,"e":12},{"s":"100K-330K","x":-0.424,"y":-26,"e":12},{"s":"100K-330K","x":-0.392,"y":-19,"e":12},{"s":"100K-330K","x":-0.359,"y":-12,"e":12},{"s":"100K-330K","x":-0.327,"y":-17,"e":12},{"s":"100K-330K","x":-0.295,"y":35,"e":12},{"s":"100K-330K","x":-0.263,"y":19,"e":12},{"s":"100K-330K","x":-0.228,"y":35,"e":12},{"s":"100K-330K","x":-0.196,"y":15,"e":12},{"s":"100K-330K","x":-0.164,"y":69,"e":12},{"s":"100K-330K","x":-0.131,"y":63,"e":12},{"s":"100K-330K","x":-0.099,"y":71,"e":12},{"s":"100K-330K","x":-0.067,"y":65,"e":12},{"s":"100K-330K","x":-0.032,"y":60,"e":12},{"s":"100K-330K","x":0.000,"y":61,"e":12},{"s":"100K-330K","x":0.032,"y":71,"e":12},{"s":"100K-330K","x":0.064,"y":88,"e":12},{"s":"100K-330K","x":0.099,"y":28,"e":12},{"s":"100K-330K","x":0.131,"y":89,"e":12},{"s":"100K-330K","x":0.166,"y":65,"e":12},{"s":"100K-330K","x":0.198,"y":45,"e":12},{"s":"100K-330K","x":0.230,"y":69,"e":12},{"s":"100K-330K","x":0.263,"y":41,"e":12},{"s":"100K-330K","x":0.295,"y":21,"e":12},{"s":"100K-330K","x":0.330,"y":38,"e":12},{"s":"100K-330K","x":0.362,"y":-2,"e":12},{"s":"100K-330K","x":0.394,"y":18,"e":12},{"s":"100K-330K","x":0.426,"y":11,"e":12},{"s":"100K-330K","x":0.461,"y":-1,"e":12},{"s":"100K-330K","x":0.493,"y":-10,"e":12},{"s":"100K-330K","x":0.525,"y":1,"e":12},{"s":"100K-330K","x":0.560,"y":9,"e":12},{"s":"100K-330K","x":0.592,"y":21,"e":12},{"s":"100K-330K","x":0.625,"y":30,"e":12},{"s":"100K-330K","x":0.657,"y":-2,"e":12},{"s":"100K-330K","x":0.689,"y":-10,"e":12},{"s":"100K-330K","x":0.721,"y":-8,"e":12},{"s":"100K-330K","x":0.756,"y":-38,"e":12},{"s":"100K-330K","x":0.791,"y":-25,"e":12}
    ]
  },
  "resolve": {"scale": {"x": "independent", "y": "independent", "color": "independent", "shape": "independent"}, "legend": {"color": "independent", "shape": "independent"}},
  "hconcat": [
    {
      "bounds": "flush",
      "spacing": 6,
      "resolve": {"scale": {"x": "independent", "y": "independent", "color": "independent", "shape": "independent"}, "legend": {"color": "independent", "shape": "independent"}},
      "vconcat": [
        {
          "width": 270, "height": 209,
          "resolve": {"axis": {"x": "independent", "y": "independent"}},
          "layer": [
            {"data": {"values": [{}]}, "mark": {"type": "rule", "color": "#000000", "strokeWidth": 1},
             "encoding": {"y": {"datum": 0, "type": "quantitative", "scale": {"domain": [-50, 400], "nice": false, "zero": false}, "axis": null}}},
            {"data": {"name": "a"}, "mark": {"type": "errorbar", "thickness": 1.5, "opacity": 0.85, "clip": true},
             "encoding": {"x": {"field": "x", "type": "quantitative", "scale": {"domain": [-1, 1], "nice": false}, "axis": null},
                          "y": {"field": "y", "type": "quantitative", "scale": {"domain": [-50, 400], "nice": false, "zero": false}, "axis": null},
                          "yError": {"field": "e"},
                          "color": {"field": "s", "type": "nominal", "scale": {"domain": ["spin wave th.", "10K data"], "range": ["#4a2c9c", "#3b1a85"]}}}},
            {"data": {"name": "aline"}, "mark": {"type": "line", "strokeWidth": 1.5, "clip": true},
             "encoding": {"x": {"field": "x", "type": "quantitative", "axis": null},
                          "y": {"field": "y", "type": "quantitative", "axis": null},
                          "color": {"field": "s", "type": "nominal", "legend": {"orient": "none", "legendX": 149, "legendY": 10, "title": null, "labelFontSize": 14, "symbolSize": 100, "symbolStrokeWidth": 2, "rowPadding": 4, "labelOffset": 12}}}},
            {"data": {"name": "a"}, "mark": {"type": "point", "filled": true, "size": 65, "opacity": 1, "clip": true},
             "encoding": {"x": {"field": "x", "type": "quantitative", "axis": {"orient": "bottom", "values": [-1, -0.75, -0.5, -0.25, 0, 0.25, 0.5, 0.75, 1], "tickSize": -5, "labels": false, "title": null}},
                          "y": {"field": "y", "type": "quantitative", "axis": {"orient": "left", "values": [0, 100, 200, 300, 400], "tickSize": -5, "labelPadding": 8, "title": "Neutron counts", "titleX": -30}},
                          "color": {"field": "s", "type": "nominal", "legend": {"orient": "none", "legendX": 149, "legendY": 10, "title": null, "labelFontSize": 14, "symbolSize": 100, "symbolStrokeWidth": 2, "rowPadding": 4, "labelOffset": 12}},
                          "shape": {"field": "s", "type": "nominal", "scale": {"domain": ["spin wave th.", "10K data"], "range": ["stroke", "circle"]}, "legend": {"orient": "none", "legendX": 149, "legendY": 10, "title": null, "labelFontSize": 14, "symbolSize": 100, "symbolStrokeWidth": 2, "rowPadding": 4, "labelOffset": 12}}}},
            {"data": {"values": [{}]}, "mark": {"type": "rule", "color": "#000000", "strokeWidth": 1.5},
             "encoding": {"x": {"datum": -0.833, "type": "quantitative", "axis": {"orient": "top", "values": [-1, -0.75, -0.5, -0.25, 0, 0.25, 0.5, 0.75, 1], "tickSize": -5, "labels": false, "title": null}},
                          "y": {"datum": 150, "type": "quantitative", "axis": {"orient": "right", "values": [0, 100, 200, 300, 400], "tickSize": -5, "labels": false, "title": null}},
                          "y2": {"datum": 166}}},
            {"data": {"values": [{}]}, "mark": {"type": "text", "align": "left", "baseline": "top", "fontSize": 13.5, "lineHeight": 18, "text": ["(a)", "YBa₂Cu₃O₆.₁", "52.5 meV", "110 dir."]},
             "encoding": {"x": {"datum": -0.92, "type": "quantitative", "axis": null}, "y": {"datum": 380, "type": "quantitative", "axis": null}}}
          ]
        },
        {
          "width": 270, "height": 209,
          "resolve": {"axis": {"x": "independent", "y": "independent"}},
          "layer": [
            {"data": {"values": [{}]}, "mark": {"type": "rule", "color": "#000000", "strokeWidth": 1},
             "encoding": {"y": {"datum": 0, "type": "quantitative", "scale": {"domain": [-50, 300], "nice": false, "zero": false}, "axis": null}}},
            {"data": {"name": "b"}, "mark": {"type": "errorbar", "thickness": 1.5, "opacity": 0.85, "clip": true},
             "encoding": {"x": {"field": "x", "type": "quantitative", "scale": {"domain": [-1, 1], "nice": false}, "axis": null},
                          "y": {"field": "y", "type": "quantitative", "scale": {"domain": [-50, 300], "nice": false, "zero": false}, "axis": null},
                          "yError": {"field": "e"},
                          "color": {"field": "s", "type": "nominal", "scale": {"domain": ["10K-630 cts", "100K-630 cts"], "range": ["#3b1a85", "#e8102d"]}}}},
            {"data": {"name": "b"}, "mark": {"type": "point", "filled": true, "size": 65, "opacity": 1, "clip": true},
             "encoding": {"x": {"field": "x", "type": "quantitative", "axis": {"orient": "bottom", "values": [-1, -0.75, -0.5, -0.25, 0, 0.25, 0.5, 0.75, 1], "tickSize": -5, "labels": false, "title": null}},
                          "y": {"field": "y", "type": "quantitative", "axis": {"orient": "left", "values": [0, 100, 200, 300], "tickSize": -5, "labelPadding": 8, "title": "Neutron counts", "titleX": -30}},
                          "color": {"field": "s", "type": "nominal", "legend": {"orient": "none", "legendX": 101, "legendY": 8, "title": null, "labelFontSize": 14, "symbolSize": 80, "rowPadding": 4, "labelOffset": 12}},
                          "shape": {"field": "s", "type": "nominal", "scale": {"domain": ["10K-630 cts", "100K-630 cts"], "range": ["circle", "triangle-up"]}, "legend": {"orient": "none", "legendX": 101, "legendY": 8, "title": null, "labelFontSize": 14, "symbolSize": 80, "rowPadding": 4, "labelOffset": 12}}}},
            {"data": {"values": [{}]}, "mark": {"type": "rule", "color": "#000000", "strokeWidth": 1.5},
             "encoding": {"x": {"datum": -0.816, "type": "quantitative", "axis": {"orient": "top", "values": [-1, -0.75, -0.5, -0.25, 0, 0.25, 0.5, 0.75, 1], "tickSize": -5, "labels": false, "title": null}},
                          "y": {"datum": 120, "type": "quantitative", "axis": {"orient": "right", "values": [0, 100, 200, 300], "tickSize": -5, "labels": false, "title": null}},
                          "y2": {"datum": 136}}},
            {"data": {"values": [{}]}, "mark": {"type": "text", "align": "left", "baseline": "top", "fontSize": 14, "lineHeight": 18, "text": ["(b)", "YBa₂Cu₃O₆.₉₅", "44 meV", "110 dir."]},
             "encoding": {"x": {"datum": -0.94, "type": "quantitative", "axis": null}, "y": {"datum": 287, "type": "quantitative", "axis": null}}}
          ]
        },
        {
          "width": 270, "height": 209,
          "resolve": {"axis": {"x": "independent", "y": "independent"}},
          "layer": [
            {"data": {"values": [{}]}, "mark": {"type": "rule", "color": "#000000", "strokeWidth": 1},
             "encoding": {"y": {"datum": 0, "type": "quantitative", "scale": {"domain": [-25, 150], "nice": false, "zero": false}, "axis": null}}},
            {"data": {"name": "c"}, "mark": {"type": "errorbar", "thickness": 1.5, "opacity": 0.85, "clip": true},
             "encoding": {"x": {"field": "x", "type": "quantitative", "scale": {"domain": [-1, 1], "nice": false}, "axis": null},
                          "y": {"field": "y", "type": "quantitative", "scale": {"domain": [-25, 150], "nice": false, "zero": false}, "axis": null},
                          "yError": {"field": "e"},
                          "color": {"field": "s", "type": "nominal", "scale": {"domain": ["10K-330K", "100K-330K"], "range": ["#3b1a85", "#e8102d"]}}}},
            {"data": {"name": "c"}, "mark": {"type": "point", "filled": true, "size": 65, "opacity": 1, "clip": true},
             "encoding": {"x": {"field": "x", "type": "quantitative", "axis": {"orient": "bottom", "values": [-1, -0.75, -0.5, -0.25, 0, 0.25, 0.5, 0.75, 1], "tickSize": -5, "labels": false, "title": null}},
                          "y": {"field": "y", "type": "quantitative", "axis": {"orient": "left", "values": [0, 50, 100, 150], "tickSize": -5, "labelPadding": 8, "title": "Neutron counts", "titleX": -30}},
                          "color": {"field": "s", "type": "nominal", "legend": {"orient": "none", "legendX": 162, "legendY": 8, "title": null, "labelFontSize": 14, "symbolSize": 80, "rowPadding": 4, "labelOffset": 12}},
                          "shape": {"field": "s", "type": "nominal", "scale": {"domain": ["10K-330K", "100K-330K"], "range": ["circle", "triangle-up"]}, "legend": {"orient": "none", "legendX": 162, "legendY": 8, "title": null, "labelFontSize": 14, "symbolSize": 80, "rowPadding": 4, "labelOffset": 12}}}},
            {"data": {"values": [{}]}, "mark": {"type": "rule", "color": "#000000", "strokeWidth": 1.5},
             "encoding": {"x": {"datum": -0.766, "type": "quantitative", "axis": {"orient": "top", "values": [-1, -0.75, -0.5, -0.25, 0, 0.25, 0.5, 0.75, 1], "tickSize": -5, "labels": false, "title": null}},
                          "y": {"datum": 72, "type": "quantitative", "axis": {"orient": "right", "values": [0, 50, 100, 150], "tickSize": -5, "labels": false, "title": null}},
                          "y2": {"datum": 78}}},
            {"data": {"values": [{}]}, "mark": {"type": "text", "align": "left", "baseline": "top", "fontSize": 14, "lineHeight": 18, "text": ["(c)", "52.5 meV", "110 dir."]},
             "encoding": {"x": {"datum": -0.923, "type": "quantitative", "axis": null}, "y": {"datum": 144, "type": "quantitative", "axis": null}}}
          ]
        },
        {
          "width": 270, "height": 209,
          "resolve": {"axis": {"x": "independent", "y": "independent"}},
          "layer": [
            {"data": {"values": [{}]}, "mark": {"type": "rule", "color": "#000000", "strokeWidth": 1},
             "encoding": {"y": {"datum": 0, "type": "quantitative", "scale": {"domain": [-15, 60], "nice": false, "zero": false}, "axis": null}}},
            {"data": {"name": "d"}, "mark": {"type": "errorbar", "thickness": 1.5, "opacity": 0.85, "clip": true},
             "encoding": {"x": {"field": "x", "type": "quantitative", "scale": {"domain": [-1, 1], "nice": false}, "axis": null},
                          "y": {"field": "y", "type": "quantitative", "scale": {"domain": [-15, 60], "nice": false, "zero": false}, "axis": null},
                          "yError": {"field": "e"},
                          "color": {"field": "s", "type": "nominal", "scale": {"domain": ["10K-330K", "100K-330K"], "range": ["#3b1a85", "#e8102d"]}}}},
            {"data": {"name": "d"}, "mark": {"type": "point", "filled": true, "size": 65, "opacity": 1, "clip": true},
             "encoding": {"x": {"field": "x", "type": "quantitative", "axis": {"orient": "bottom", "values": [-1, -0.75, -0.5, -0.25, 0, 0.25, 0.5, 0.75, 1], "tickSize": -5, "labelPadding": 8, "labelFontSize": 14, "labelExpr": "abs(datum.value*2 - round(datum.value*2)) < 0.001 ? format(datum.value, '.1f') : ''", "title": "|Q|-|Qaf| (A⁻¹)", "titleFontSize": 18, "titlePadding": 2}},
                          "y": {"field": "y", "type": "quantitative", "axis": {"orient": "left", "values": [-10, 0, 10, 20, 30, 40, 50, 60], "tickSize": -5, "labelPadding": 8, "labelExpr": "datum.value % 20 == 0 ? datum.label : ''", "title": "Neutron counts", "titleX": -30}},
                          "color": {"field": "s", "type": "nominal", "legend": {"orient": "none", "legendX": 146, "legendY": 8, "title": null, "labelFontSize": 14, "symbolSize": 80, "rowPadding": 4, "labelOffset": 12}},
                          "shape": {"field": "s", "type": "nominal", "scale": {"domain": ["10K-330K", "100K-330K"], "range": ["circle", "triangle-up"]}, "legend": {"orient": "none", "legendX": 146, "legendY": 8, "title": null, "labelFontSize": 14, "symbolSize": 80, "rowPadding": 4, "labelOffset": 12}}}},
            {"data": {"values": [{}]}, "mark": {"type": "rule", "color": "#000000", "strokeWidth": 1.5},
             "encoding": {"x": {"datum": -0.796, "type": "quantitative", "axis": {"orient": "top", "values": [-1, -0.75, -0.5, -0.25, 0, 0.25, 0.5, 0.75, 1], "tickSize": -5, "labels": false, "title": null}},
                          "y": {"datum": 26.8, "type": "quantitative", "axis": {"orient": "right", "values": [-10, 0, 10, 20, 30, 40, 50, 60], "tickSize": -5, "labels": false, "title": null}},
                          "y2": {"datum": 34.2}}},
            {"data": {"values": [{}]}, "mark": {"type": "text", "align": "left", "baseline": "top", "fontSize": 14, "lineHeight": 18, "text": ["(d)", "60 meV", "110 dir."]},
             "encoding": {"x": {"datum": -0.958, "type": "quantitative", "axis": null}, "y": {"datum": 58, "type": "quantitative", "axis": null}}}
          ]
        }
      ]
    },
    {
      "bounds": "flush",
      "spacing": 6,
      "resolve": {"scale": {"x": "independent", "y": "independent", "color": "independent", "shape": "independent"}, "legend": {"color": "independent", "shape": "independent"}},
      "vconcat": [
        {
          "width": 269, "height": 209,
          "resolve": {"axis": {"x": "independent", "y": "independent"}},
          "layer": [
            {"data": {"values": [{}]}, "mark": {"type": "rule", "color": "#000000", "strokeWidth": 1},
             "encoding": {"y": {"datum": 0, "type": "quantitative", "scale": {"domain": [-50, 250], "nice": false, "zero": false}, "axis": null}}},
            {"data": {"name": "e"}, "mark": {"type": "errorbar", "thickness": 1.5, "opacity": 0.85, "clip": true},
             "encoding": {"x": {"field": "x", "type": "quantitative", "scale": {"domain": [-1, 1], "nice": false}, "axis": null},
                          "y": {"field": "y", "type": "quantitative", "scale": {"domain": [-50, 250], "nice": false, "zero": false}, "axis": null},
                          "yError": {"field": "e"},
                          "color": {"field": "s", "type": "nominal", "scale": {"domain": ["10K-300K", "100K-300K"], "range": ["#3b1a85", "#e8102d"]}}}},
            {"data": {"name": "e"}, "mark": {"type": "point", "filled": true, "size": 65, "opacity": 1, "clip": true},
             "encoding": {"x": {"field": "x", "type": "quantitative", "axis": {"orient": "bottom", "values": [-1, -0.75, -0.5, -0.25, 0, 0.25, 0.5, 0.75, 1], "tickSize": -5, "labels": false, "title": null}},
                          "y": {"field": "y", "type": "quantitative", "axis": {"orient": "left", "values": [-50, 0, 50, 100, 150, 200, 250], "tickSize": -5, "labelPadding": 8, "labelExpr": "datum.value % 100 == 0 ? datum.label : ''", "title": null}},
                          "color": {"field": "s", "type": "nominal", "legend": {"orient": "none", "legendX": 165, "legendY": 8, "title": null, "labelFontSize": 14, "symbolSize": 80, "rowPadding": 4, "labelOffset": 12}},
                          "shape": {"field": "s", "type": "nominal", "scale": {"domain": ["10K-300K", "100K-300K"], "range": ["circle", "triangle-up"]}, "legend": {"orient": "none", "legendX": 165, "legendY": 8, "title": null, "labelFontSize": 14, "symbolSize": 80, "rowPadding": 4, "labelOffset": 12}}}},
            {"data": {"values": [{}]}, "mark": {"type": "rule", "color": "#000000", "strokeWidth": 1.5},
             "encoding": {"x": {"datum": -0.848, "type": "quantitative", "axis": {"orient": "top", "values": [-1, -0.75, -0.5, -0.25, 0, 0.25, 0.5, 0.75, 1], "tickSize": -5, "labels": false, "title": null}},
                          "y": {"datum": 93, "type": "quantitative", "axis": {"orient": "right", "values": [-50, 0, 50, 100, 150, 200, 250], "tickSize": -5, "labels": false, "title": null}},
                          "y2": {"datum": 139}}},
            {"data": {"values": [{}]}, "mark": {"type": "text", "align": "left", "baseline": "top", "fontSize": 14, "lineHeight": 18, "text": ["(e)", "35 meV", "100 dir."]},
             "encoding": {"x": {"datum": -0.922, "type": "quantitative", "axis": null}, "y": {"datum": 239, "type": "quantitative", "axis": null}}}
          ]
        },
        {
          "width": 269, "height": 209,
          "resolve": {"axis": {"x": "independent", "y": "independent"}},
          "layer": [
            {"data": {"values": [{}]}, "mark": {"type": "rule", "color": "#000000", "strokeWidth": 1},
             "encoding": {"y": {"datum": 0, "type": "quantitative", "scale": {"domain": [-50, 450], "nice": false, "zero": false}, "axis": null}}},
            {"data": {"name": "f"}, "mark": {"type": "errorbar", "thickness": 1.5, "opacity": 0.85, "clip": true},
             "encoding": {"x": {"field": "x", "type": "quantitative", "scale": {"domain": [-1, 1], "nice": false}, "axis": null},
                          "y": {"field": "y", "type": "quantitative", "scale": {"domain": [-50, 450], "nice": false, "zero": false}, "axis": null},
                          "yError": {"field": "e"},
                          "color": {"field": "s", "type": "nominal", "scale": {"domain": ["10K-300K", "100K-300K"], "range": ["#3b1a85", "#e8102d"]}}}},
            {"data": {"name": "f"}, "mark": {"type": "point", "filled": true, "size": 65, "opacity": 1, "clip": true},
             "encoding": {"x": {"field": "x", "type": "quantitative", "axis": {"orient": "bottom", "values": [-1, -0.75, -0.5, -0.25, 0, 0.25, 0.5, 0.75, 1], "tickSize": -5, "labels": false, "title": null}},
                          "y": {"field": "y", "type": "quantitative", "axis": {"orient": "left", "values": [0, 100, 200, 300, 400], "tickSize": -5, "labelPadding": 8, "title": null}},
                          "color": {"field": "s", "type": "nominal", "legend": {"orient": "none", "legendX": 166, "legendY": 6, "title": null, "labelFontSize": 14, "symbolSize": 80, "rowPadding": 4, "labelOffset": 12}},
                          "shape": {"field": "s", "type": "nominal", "scale": {"domain": ["10K-300K", "100K-300K"], "range": ["circle", "triangle-up"]}, "legend": {"orient": "none", "legendX": 166, "legendY": 6, "title": null, "labelFontSize": 14, "symbolSize": 80, "rowPadding": 4, "labelOffset": 12}}}},
            {"data": {"values": [{}]}, "mark": {"type": "rule", "color": "#000000", "strokeWidth": 1.5},
             "encoding": {"x": {"datum": -0.793, "type": "quantitative", "axis": {"orient": "top", "values": [-1, -0.75, -0.5, -0.25, 0, 0.25, 0.5, 0.75, 1], "tickSize": -5, "labels": false, "title": null}},
                          "y": {"datum": 253, "type": "quantitative", "axis": {"orient": "right", "values": [0, 100, 200, 300, 400], "tickSize": -5, "labels": false, "title": null}},
                          "y2": {"datum": 264}}},
            {"data": {"values": [{}]}, "mark": {"type": "text", "align": "left", "baseline": "top", "fontSize": 14, "lineHeight": 18, "text": ["(f)", "41 meV", "100 dir."]},
             "encoding": {"x": {"datum": -0.927, "type": "quantitative", "axis": null}, "y": {"datum": 428, "type": "quantitative", "axis": null}}}
          ]
        },
        {
          "width": 269, "height": 209,
          "resolve": {"axis": {"x": "independent", "y": "independent"}},
          "layer": [
            {"data": {"values": [{}]}, "mark": {"type": "rule", "color": "#000000", "strokeWidth": 1},
             "encoding": {"y": {"datum": 0, "type": "quantitative", "scale": {"domain": [-80, 250], "nice": false, "zero": false}, "axis": null}}},
            {"data": {"name": "g"}, "mark": {"type": "errorbar", "thickness": 1.5, "opacity": 0.85, "clip": true},
             "encoding": {"x": {"field": "x", "type": "quantitative", "scale": {"domain": [-1, 1], "nice": false}, "axis": null},
                          "y": {"field": "y", "type": "quantitative", "scale": {"domain": [-80, 250], "nice": false, "zero": false}, "axis": null},
                          "yError": {"field": "e"},
                          "color": {"field": "s", "type": "nominal", "scale": {"domain": ["10K-300K", "100K-300K"], "range": ["#3b1a85", "#e8102d"]}}}},
            {"data": {"name": "g"}, "mark": {"type": "point", "filled": true, "size": 65, "opacity": 1, "clip": true},
             "encoding": {"x": {"field": "x", "type": "quantitative", "axis": {"orient": "bottom", "values": [-1, -0.75, -0.5, -0.25, 0, 0.25, 0.5, 0.75, 1], "tickSize": -5, "labels": false, "title": null}},
                          "y": {"field": "y", "type": "quantitative", "axis": {"orient": "left", "values": [-50, 0, 50, 100, 150, 200], "tickSize": -5, "labelPadding": 8, "labelExpr": "datum.value % 100 == 0 ? datum.label : ''", "title": null}},
                          "color": {"field": "s", "type": "nominal", "legend": {"orient": "none", "legendX": 162, "legendY": 8, "title": null, "labelFontSize": 14, "symbolSize": 80, "rowPadding": 4, "labelOffset": 12}},
                          "shape": {"field": "s", "type": "nominal", "scale": {"domain": ["10K-300K", "100K-300K"], "range": ["circle", "triangle-up"]}, "legend": {"orient": "none", "legendX": 162, "legendY": 8, "title": null, "labelFontSize": 14, "symbolSize": 80, "rowPadding": 4, "labelOffset": 12}}}},
            {"data": {"values": [{}]}, "mark": {"type": "rule", "color": "#000000", "strokeWidth": 1.5},
             "encoding": {"x": {"datum": -0.83, "type": "quantitative", "axis": {"orient": "top", "values": [-1, -0.75, -0.5, -0.25, 0, 0.25, 0.5, 0.75, 1], "tickSize": -5, "labels": false, "title": null}},
                          "y": {"datum": 98, "type": "quantitative", "axis": {"orient": "right", "values": [-50, 0, 50, 100, 150, 200], "tickSize": -5, "labels": false, "title": null}},
                          "y2": {"datum": 129}}},
            {"data": {"values": [{}]}, "mark": {"type": "text", "align": "left", "baseline": "top", "fontSize": 14, "lineHeight": 18, "text": ["(g)", "45 meV", "100 dir."]},
             "encoding": {"x": {"datum": -0.939, "type": "quantitative", "axis": null}, "y": {"datum": 233, "type": "quantitative", "axis": null}}}
          ]
        },
        {
          "width": 269, "height": 209,
          "resolve": {"axis": {"x": "independent", "y": "independent"}},
          "layer": [
            {"data": {"values": [{}]}, "mark": {"type": "rule", "color": "#000000", "strokeWidth": 1},
             "encoding": {"y": {"datum": 0, "type": "quantitative", "scale": {"domain": [-50, 150], "nice": false, "zero": false}, "axis": null}}},
            {"data": {"name": "h"}, "mark": {"type": "errorbar", "thickness": 1.5, "opacity": 0.85, "clip": true},
             "encoding": {"x": {"field": "x", "type": "quantitative", "scale": {"domain": [-1, 1], "nice": false}, "axis": null},
                          "y": {"field": "y", "type": "quantitative", "scale": {"domain": [-50, 150], "nice": false, "zero": false}, "axis": null},
                          "yError": {"field": "e"},
                          "color": {"field": "s", "type": "nominal", "scale": {"domain": ["10K-330K", "100K-330K"], "range": ["#3b1a85", "#e8102d"]}}}},
            {"data": {"name": "h"}, "mark": {"type": "point", "filled": true, "size": 65, "opacity": 1, "clip": true},
             "encoding": {"x": {"field": "x", "type": "quantitative", "axis": {"orient": "bottom", "values": [-1, -0.75, -0.5, -0.25, 0, 0.25, 0.5, 0.75, 1], "tickSize": -5, "labelPadding": 8, "labelFontSize": 14, "labelExpr": "abs(datum.value*2 - round(datum.value*2)) < 0.001 ? format(datum.value, '.1f') : ''", "title": "|Q|-|Qaf| (A⁻¹)", "titleFontSize": 18, "titlePadding": 2}},
                          "y": {"field": "y", "type": "quantitative", "axis": {"orient": "left", "values": [-50, 0, 50, 100, 150], "tickSize": -5, "labelPadding": 8, "title": null}},
                          "color": {"field": "s", "type": "nominal", "legend": {"orient": "none", "legendX": 170, "legendY": 9, "title": null, "labelFontSize": 14, "symbolSize": 80, "rowPadding": 4, "labelOffset": 12}},
                          "shape": {"field": "s", "type": "nominal", "scale": {"domain": ["10K-330K", "100K-330K"], "range": ["circle", "triangle-up"]}, "legend": {"orient": "none", "legendX": 170, "legendY": 9, "title": null, "labelFontSize": 14, "symbolSize": 80, "rowPadding": 4, "labelOffset": 12}}}},
            {"data": {"values": [{}]}, "mark": {"type": "rule", "color": "#000000", "strokeWidth": 1.5},
             "encoding": {"x": {"datum": -0.835, "type": "quantitative", "axis": {"orient": "top", "values": [-1, -0.75, -0.5, -0.25, 0, 0.25, 0.5, 0.75, 1], "tickSize": -5, "labels": false, "title": null}},
                          "y": {"datum": 56, "type": "quantitative", "axis": {"orient": "right", "values": [-50, 0, 50, 100, 150], "tickSize": -5, "labels": false, "title": null}},
                          "y2": {"datum": 78}}},
            {"data": {"values": [{}]}, "mark": {"type": "text", "align": "left", "baseline": "top", "fontSize": 14, "lineHeight": 18, "text": ["(h)", "50 meV", "100 dir."]},
             "encoding": {"x": {"datum": -0.966, "type": "quantitative", "axis": null}, "y": {"datum": 144, "type": "quantitative", "axis": null}}}
          ]
        }
      ]
    }
  ]
}
